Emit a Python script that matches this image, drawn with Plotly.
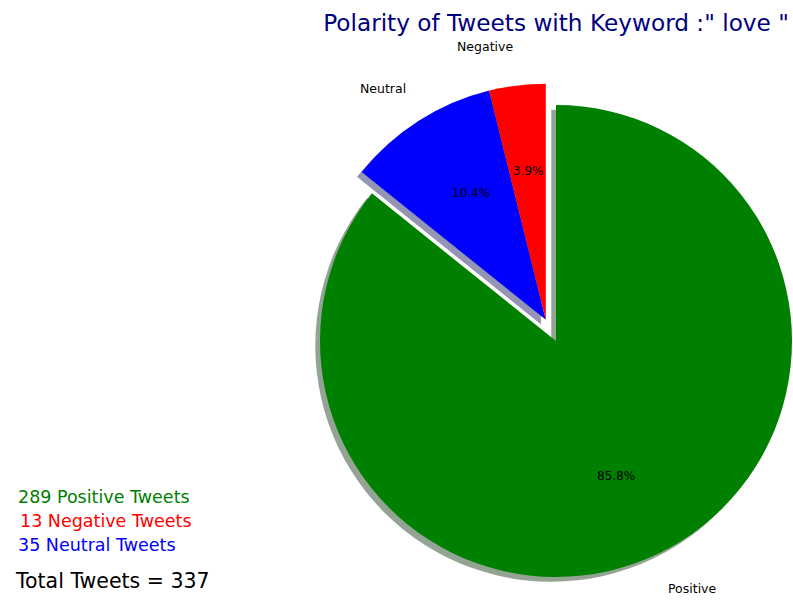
import numpy as np
import plotly.graph_objects as go

# Tweet polarity counts for the searched keyword
keyword = "love"
labels = ["Positive", "Neutral", "Negative"]
counts = [289, 35, 13]
colors = ["#008000", "#0000ff", "#ff0000"]
pulled = [False, True, True]   # minority slices are pulled out together
PULL = 0.1                     # pull distance as a fraction of the radius

# Order of the lines in the summary block
summary_order = ["Positive", "Negative", "Neutral"]

# Canvas and pie geometry (pixels)
W, H = 793, 605
CX, CY, R = 556, 341, 236
LABEL_RX, LABEL_RY = 232, 250   # radii used to lay out the slice texts
SHADOW_OFF = 0.02               # shadow offset as a fraction of the radius
FONT = "DejaVu Sans"

total = sum(counts)
fracs = np.array(counts) / total
starts = np.concatenate([[0.0], np.cumsum(fracs)[:-1]]) * 360.0
mids = starts + fracs * 180.0


def px_to_paper(x, y):
    return x / W, 1 - y / H


def domain_at(cx, cy):
    return dict(x=[(cx - R) / W, (cx + R) / W],
                y=[1 - (cy + R) / H, 1 - (cy - R) / H])


def shadow_rgba(hex_color):
    h = hex_color.lstrip("#")
    rgb = [int(h[k:k + 2], 16) for k in (0, 2, 4)]
    return "rgba({},{},{},0.42)".format(*[int(round(0.3 * c)) for c in rgb])


def direction(angle_deg):
    a = np.radians(angle_deg)
    return np.sin(a), -np.cos(a)


# The pulled group moves out along the middle of its combined arc
grp = [i for i, p in enumerate(pulled) if p]
grp_start = starts[grp[0]]
grp_end = starts[grp[-1]] + fracs[grp[-1]] * 360.0
gx, gy = direction((grp_start + grp_end) / 2)
centres = [(CX + PULL * R * gx, CY + PULL * R * gy) if p else (CX, CY) for p in pulled]
unit = [direction(m) for m in mids]

fig = go.Figure()


def add_slice(i, cx, cy, color):
    fig.add_trace(go.Pie(
        labels=labels, values=counts, sort=False, direction="clockwise", rotation=0,
        marker=dict(colors=[color if j == i else "rgba(0,0,0,0)" for j in range(len(labels))],
                    line=dict(width=0)),
        textinfo="none", hoverinfo="skip", showlegend=False,
        domain=domain_at(cx, cy),
    ))


# Shadows underneath all slices
for i, (cx, cy) in enumerate(centres):
    add_slice(i, cx - SHADOW_OFF * R, cy + SHADOW_OFF * R, shadow_rgba(colors[i]))

# Slices
for i, (cx, cy) in enumerate(centres):
    add_slice(i, cx, cy, colors[i])

annotations = []
# Percentages inside and category labels outside each slice
for i, ((cx, cy), (ux, uy)) in enumerate(zip(centres, unit)):
    px, py = px_to_paper(cx + 0.6 * LABEL_RX * ux, cy + 0.6 * LABEL_RY * uy)
    annotations.append(dict(x=px, y=py, xref="paper", yref="paper", showarrow=False,
                            text=f"{100 * fracs[i]:.1f}%", xanchor="center", yanchor="middle",
                            font=dict(family=FONT, size=12, color="black")))
    lx, ly = px_to_paper(cx + 1.1 * LABEL_RX * ux, cy + 1.1 * LABEL_RY * uy)
    annotations.append(dict(x=lx, y=ly, xref="paper", yref="paper", showarrow=False,
                            text=labels[i], xanchor="left" if ux > 0 else "right",
                            yanchor="middle",
                            font=dict(family=FONT, size=12.5, color="black")))

# Counts summary in the lower-left corner
line_y = [497, 521, 545]
line_x = [16, 18, 16]
for name, yy, xx in zip(summary_order, line_y, line_x):
    i = labels.index(name)
    ax, ay = px_to_paper(xx, yy)
    annotations.append(dict(x=ax, y=ay, xref="paper", yref="paper", showarrow=False,
                            text=f"{counts[i]} {name} Tweets", xanchor="left", yanchor="middle",
                            font=dict(family=FONT, size=17.5, color=colors[i])))
ax, ay = px_to_paper(13, 581)
annotations.append(dict(x=ax, y=ay, xref="paper", yref="paper", showarrow=False,
                        text=f"Total Tweets = {total}", xanchor="left", yanchor="middle",
                        font=dict(family=FONT, size=20.5, color="black")))

tx, ty = px_to_paper(CX, 23)
fig.update_layout(
    width=W, height=H,
    margin=dict(l=0, r=0, t=0, b=0),
    paper_bgcolor="white", plot_bgcolor="white",
    title=dict(text=f'Polarity of Tweets with Keyword :" {keyword} "', x=tx, y=ty,
               xanchor="center", yanchor="middle",
               font=dict(family=FONT, size=23.2, color="#000080")),
    annotations=annotations,
)

fig.write_html("out.html")
